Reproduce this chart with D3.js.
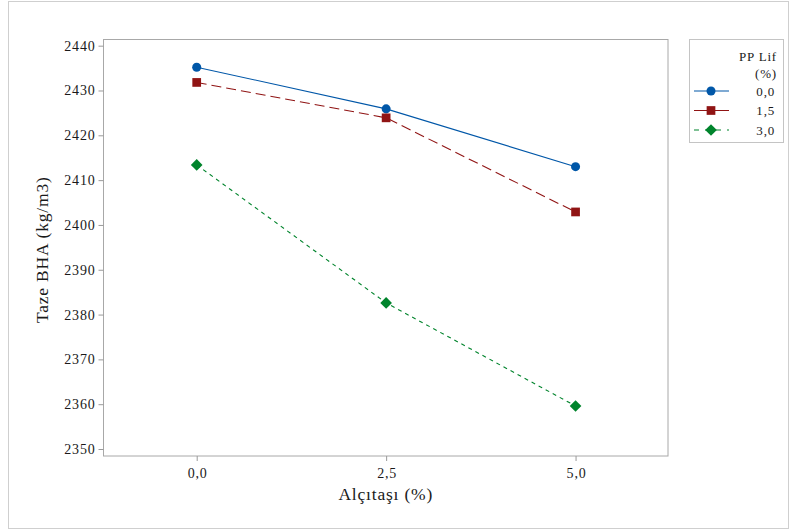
<!DOCTYPE html>
<html>
<head>
<meta charset="utf-8">
<script src="https://cdn.jsdelivr.net/npm/d3@7"></script>
<style>
  html, body { margin: 0; padding: 0; background: #fff; }
  svg { display: block; }
</style>
</head>
<body>
<svg id="chart" width="790" height="530"></svg>
<script>
// Alçıtaşı content (x) and fresh unit weight per PP fibre level
const xValues = [0, 2.5, 5];
const xTickLabels = ["0,0", "2,5", "5,0"];
const yTicks = [2350, 2360, 2370, 2380, 2390, 2400, 2410, 2420, 2430, 2440];
const seriesNames = ["0,0", "1,5", "3,0"];
const pp00 = [2435.2, 2425.9, 2413.0];
const pp15 = [2431.8, 2423.9, 2402.9];
const pp30 = [2413.4, 2382.6, 2359.6];

const series = [
  { name: seriesNames[0], values: pp00, color: "#0057a8", dash: null,   symbol: d3.symbolCircle, size: 64, rot: 0 },
  { name: seriesNames[1], values: pp15, color: "#901414", dash: "10,5", symbol: d3.symbolSquare, size: 76, rot: 0 },
  { name: seriesNames[2], values: pp30, color: "#00842c", dash: "4,4",  symbol: d3.symbolSquare, size: 68, rot: 45 }
];

const svg = d3.select("#chart");

// outer frame
svg.append("rect")
  .attr("x", 8.5).attr("y", 1.5).attr("width", 780).attr("height", 527)
  .attr("fill", "none").attr("stroke", "#cfcfcf").attr("stroke-width", 1);

const plot = { left: 103.5, top: 39.5, right: 668, bottom: 456 };

const x = d3.scaleLinear().domain([-1.23, 6.22]).range([plot.left, plot.right]);
const y = d3.scaleLinear().domain([2348.44, 2441.38]).range([plot.bottom, plot.top]);

// plot frame
svg.append("rect")
  .attr("x", plot.left).attr("y", plot.top)
  .attr("width", plot.right - plot.left).attr("height", plot.bottom - plot.top)
  .attr("fill", "none").attr("stroke", "#a8a8a8").attr("stroke-width", 1);

// y axis
const yAxis = svg.append("g")
  .attr("transform", `translate(${plot.left},0)`)
  .call(d3.axisLeft(y).tickValues(yTicks).tickFormat(d3.format("d")).tickSize(5).tickPadding(3));
yAxis.select(".domain").remove();
yAxis.selectAll(".tick line").attr("stroke", "#9a9a9a");
yAxis.selectAll(".tick text").style("font-size", "14px");

// x axis
const xAxis = svg.append("g")
  .attr("transform", `translate(0,${plot.bottom})`)
  .call(d3.axisBottom(x).tickValues(xValues).tickFormat((d, i) => xTickLabels[i]).tickSize(5).tickPadding(7));
xAxis.select(".domain").remove();
xAxis.selectAll(".tick line").attr("stroke", "#9a9a9a");
xAxis.selectAll(".tick text").style("font-size", "14px").attr("dx", "0.5");

// axis titles
svg.append("text")
  .attr("x", (plot.left + plot.right) / 2).attr("y", 500)
  .attr("text-anchor", "middle").style("font-size", "17.5px")
  .text("Alçıtaşı (%)");

svg.append("text")
  .attr("transform", `translate(48,${(plot.top + plot.bottom) / 2 + 2}) rotate(-90)`)
  .attr("text-anchor", "middle").style("font-size", "17.5px")
  .text("Taze BHA (kg/m3)");

// lines and markers
const line = d3.line().x((d, i) => x(xValues[i])).y(d => y(d));

series.forEach(s => {
  svg.append("path")
    .datum(s.values)
    .attr("d", line)
    .attr("fill", "none")
    .attr("stroke", s.color)
    .attr("stroke-width", 1.1)
    .attr("stroke-dasharray", s.dash);
  svg.append("g").selectAll("path")
    .data(s.values)
    .join("path")
    .attr("transform", (d, i) => `translate(${x(xValues[i])},${y(d)}) rotate(${s.rot})`)
    .attr("d", d3.symbol().type(s.symbol).size(s.size))
    .attr("fill", s.color);
});

// legend
const lg = svg.append("g");
lg.append("rect")
  .attr("x", 689.5).attr("y", 39.5).attr("width", 94).attr("height", 103)
  .attr("fill", "none").attr("stroke", "#c4c4c4").attr("stroke-width", 1);
lg.append("text").attr("x", 777).attr("y", 61).attr("text-anchor", "end").style("font-size", "13px").text("PP Lif");
lg.append("text").attr("x", 777).attr("y", 78).attr("text-anchor", "end").style("font-size", "13px").text("(%)");

series.forEach((s, i) => {
  const cy = 91 + i * 19.5;
  lg.append("line")
    .attr("x1", 694).attr("x2", 729).attr("y1", cy).attr("y2", cy)
    .attr("stroke", s.color).attr("stroke-width", 1.1)
    .attr("stroke-dasharray", i === 2 ? "5,6" : null);
  lg.append("path")
    .attr("transform", `translate(711,${cy}) rotate(${s.rot})`)
    .attr("d", d3.symbol().type(s.symbol).size(s.size))
    .attr("fill", s.color);
  lg.append("text").attr("x", 775).attr("y", cy + 4.5).attr("text-anchor", "end").style("font-size", "13px").text(s.name);
});

// serif face, slightly open tracking and dark ink on every label
svg.selectAll("text")
  .style("font-family", "'Liberation Serif'")
  .style("letter-spacing", "0.8px")
  .style("fill", "#1a1a1a");
</script>
</body>
</html>
